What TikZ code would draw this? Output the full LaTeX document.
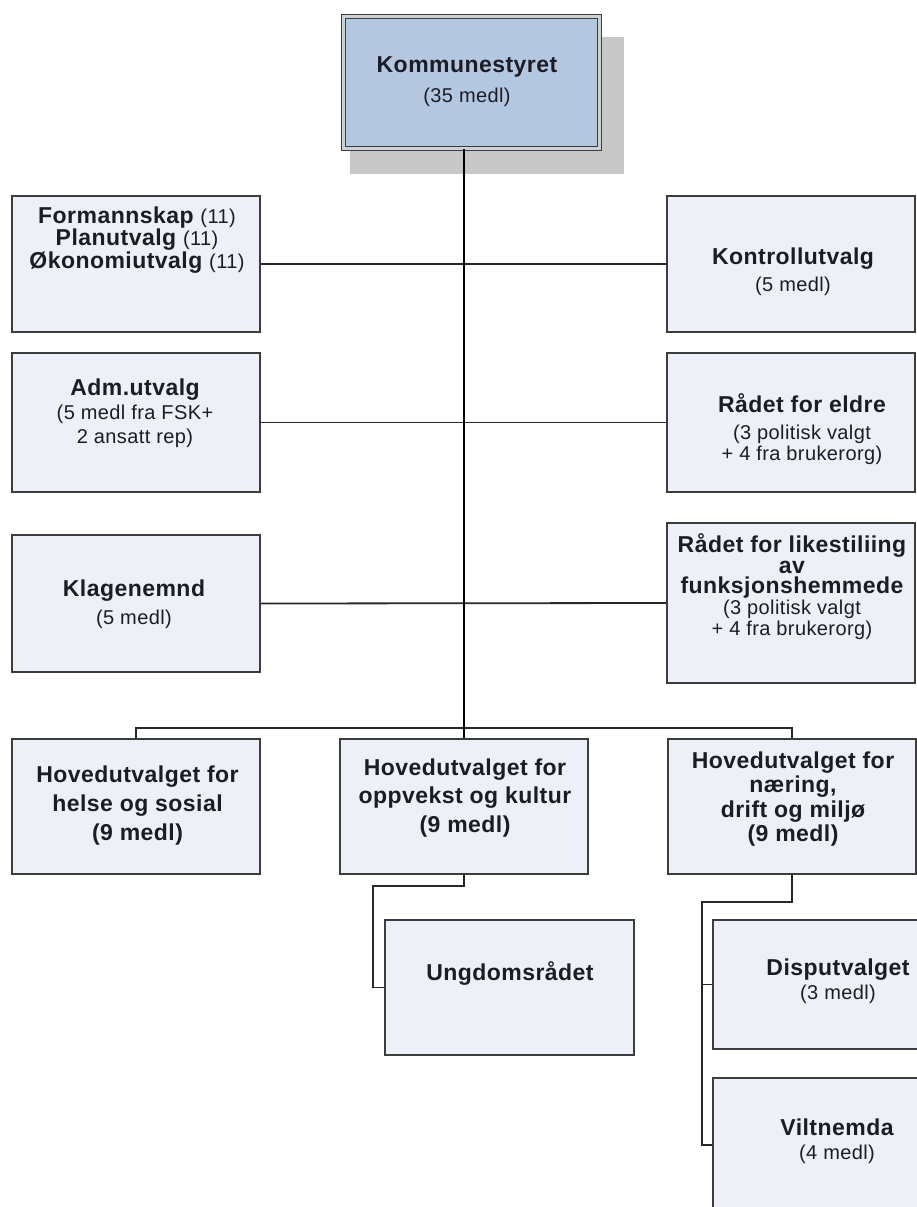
\documentclass[tikz,border=0pt]{standalone}
\usepackage{fontspec}
\setmainfont{Liberation Sans}[LetterSpace=2]
\usetikzlibrary{fit}
\definecolor{boxfill}{RGB}{237,240,246}
\definecolor{mainfill}{RGB}{180,199,224}
\definecolor{boxline}{RGB}{60,60,60}
\definecolor{connline}{RGB}{40,40,40}
\definecolor{shadowgray}{RGB}{200,200,200}
\definecolor{gapgray}{RGB}{205,208,212}
\definecolor{txt}{RGB}{28,28,38}
\newcommand\Rg[1]{{\fontsize{20}{20}\selectfont\mdseries #1}}
\begin{document}
\begin{tikzpicture}[x=1pt,y=-1pt,
  box/.style={draw=boxline, fill=boxfill, line width=1.7pt, inner sep=0pt},
  mainbox/.style={draw=boxline, fill=mainfill, line width=1.4pt, double=gapgray, double distance=2.6pt, inner sep=0pt},
  conn/.style={draw=connline, line width=1.8pt},
  trunk/.style={draw=black, line width=2.2pt},
  lbl/.style={text=txt, align=center, inner sep=0pt, font=\fontsize{23}{#1}\selectfont\bfseries},
  lbl/.default=23]
\useasboundingbox (0,0) rectangle (917,1207);
\clip (0,0) rectangle (917,1207);
\fill[white] (0,0) rectangle (917,1207);
% shadow of main box
\fill[shadowgray] (350,37) rectangle (624,174);
% boxes
\node[mainbox, fit={(343.5,16.5) (599.5,148.5)}] (komm) {};
\node[box, fit={(12,196) (260,332)}] (form) {};
\node[box, fit={(12,353) (260,492)}] (adm) {};
\node[box, fit={(667,196) (915,332)}] (kontr) {};
\node[box, fit={(667,353) (915,492)}] (eldre) {};
\node[box, fit={(12,535) (260,672)}] (klag) {};
\node[box, fit={(667,523) (915,683)}] (like) {};
\node[box, fit={(12,739) (260,874)}] (h1) {};
\node[box, fit={(340,739) (588,874)}] (h2) {};
\node[box, fit={(668,739) (916,874)}] (h3) {};
\node[box, fit={(385,920) (634,1055)}] (ung) {};
\node[box, fit={(713,920) (961,1049)}] (disp) {};
\node[box, fit={(713,1078) (961,1212)}] (vilt) {};
% coordinates for connectors
\coordinate (bus) at (464,728);
\coordinate (u1) at (373,886);
\coordinate (d1) at (702,902);
% connectors
\draw[conn] (form.east) -- (kontr.west);
\draw[conn] (adm.east) -- (eldre.west);
\draw[conn] (klag.east) -- (like.west);
\draw[conn] (h1.north) |- (bus) -| (h3.north);
\draw[trunk] (komm.south -| bus) -- (h2.north);
\draw[conn] (h2.south) |- (u1) |- (ung.west);
\draw[conn] (h3.south) |- (d1) |- (vilt.west);
\draw[conn] (d1) |- (disp.west);
% labels
\node[lbl=30] (t-komm) at (467,82) {Kommunestyret\\\Rg{(35 medl)}};
\node[lbl=21] (t-form) at (137,240) {Formannskap \Rg{(11)}\\Planutvalg \Rg{(11)}\\Økonomiutvalg \Rg{(11)}};
\node[lbl=24] (t-adm) at (135,413) {Adm.utvalg\\\Rg{(5 medl fra FSK+}\\\Rg{2 ansatt rep)}};
\node[lbl=27] (t-kontr) at (793,271.5) {Kontrollutvalg\\\Rg{(5 medl)}};
\node[lbl=21] (t-eldre) at (802,429) {Rådet for eldre\\[6pt]\Rg{(3 politisk valgt}\\\Rg{+ 4 fra brukerorg)}};
\node[lbl=28] (t-klag) at (134,604) {Klagenemnd\\\Rg{(5 medl)}};
\node[lbl=20.75] (t-like) at (792,586.5) {Rådet for likestiliing\\av\\funksjonshemmede\\\Rg{(3 politisk valgt}\\\Rg{+ 4 fra brukerorg)}};
\node[lbl=29] (t-h1) at (137.5,806) {Hovedutvalget for\\helse og sosial\\(9 medl)};
\node[lbl=28.5] (t-h2) at (465,798) {Hovedutvalget for\\oppvekst og kultur\\(9 medl)};
\node[lbl=24.3] (t-h3) at (793,799) {Hovedutvalget for\\næring,\\drift og miljø\\(9 medl)};
\node[lbl] (t-ung) at (510,973) {Ungdomsrådet};
\node[lbl=24] (t-disp) at (838,981.5) {Disputvalget\\\Rg{(3 medl)}};
\node[lbl=24] (t-vilt) at (837,1141.5) {Viltnemda\\\Rg{(4 medl)}};
\end{tikzpicture}
\end{document}
